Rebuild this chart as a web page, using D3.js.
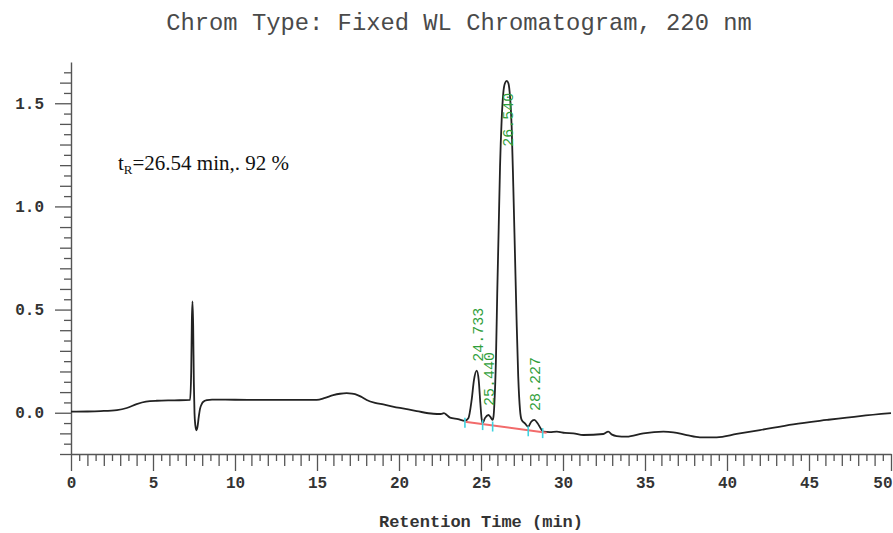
<!DOCTYPE html>
<html>
<head>
<meta charset="utf-8">
<script src="https://cdn.jsdelivr.net/npm/d3@7"></script>
<style>
  body { margin: 0; background: #fff; }
  svg { display: block; }
</style>
</head>
<body>
<div id="chart"></div>
<script>

// trace (min, AU)
var times = [0, 1.0, 1.8, 2.8, 3.4, 4.0, 4.57, 5.23, 6.3, 7.26,
    7.33, 7.37, 7.41, 7.45, 7.49, 7.53, 7.58, 7.65, 7.71, 7.79, 7.87, 7.97, 8.07, 8.3, 8.6,
    10, 12, 14, 14.98, 15.49, 15.99, 16.4, 16.81, 17.13, 17.32, 17.68, 18.03, 18.54, 19.04,
    20.06, 21.08, 22.09, 22.55, 22.74, 22.93, 23.11, 23.6, 24.02,
    24.23, 24.43, 24.57, 24.74, 24.86, 24.96, 25.04, 25.1, 25.24, 25.45, 25.58, 25.7,
    25.76, 25.82, 25.91, 25.99, 26.08, 26.16, 26.26, 26.36, 26.46, 26.57, 26.67, 26.77,
    26.87, 26.97, 27.07, 27.17, 27.27, 27.38, 27.48, 27.68, 27.88,
    28.05, 28.25, 28.45, 28.66, 28.8, 29.2, 29.62, 30.12, 30.63, 31.24, 32.46, 32.76,
    32.99, 33.27, 33.88, 34.9, 36.12, 36.73, 37.54, 38.35, 39.37, 40.59, 42.01, 44.04,
    46.08, 48.11, 50];
var absorb = [0.005, 0.006, 0.008, 0.013, 0.023, 0.042, 0.054, 0.058, 0.060, 0.062,
    0.20, 0.45, 0.54, 0.42, 0.15, 0.0, -0.06, -0.085, -0.07, -0.02, 0.02, 0.042, 0.053, 0.061, 0.064,
    0.063, 0.062, 0.062, 0.062, 0.072, 0.085, 0.092, 0.095, 0.093, 0.090, 0.078, 0.062, 0.048, 0.040,
    0.023, 0.008, -0.005, -0.006, -0.002, -0.012, -0.024, -0.031, -0.039,
    -0.027, 0.062, 0.158, 0.204, 0.158, 0.046, -0.030, -0.050, -0.026, -0.011, -0.021, -0.035,
    -0.02, 0.05, 0.255, 0.579, 0.90, 1.19, 1.42, 1.55, 1.597, 1.609, 1.597, 1.532,
    1.386, 1.095, 0.773, 0.449, 0.175, 0.013, -0.035, -0.052, -0.068,
    -0.045, -0.035, -0.051, -0.079, -0.092, -0.094, -0.092, -0.098, -0.100, -0.108, -0.103, -0.092,
    -0.106, -0.113, -0.116, -0.100, -0.092, -0.095, -0.108, -0.119, -0.119, -0.103, -0.084, -0.056,
    -0.035, -0.016, -0.002];

var peakTimes = [24.733, 25.440, 26.540, 28.227];
var peakApex = [0.204, -0.011, 1.609, -0.035];
var peakNames = ["24.733", "25.440", "26.540", "28.227"];

var baselineT = [24.02, 29.0];
var baselineV = [-0.044, -0.097];
var markT = [24.02, 25.1, 25.71, 27.88, 28.76];
var markV = [-0.044, -0.055, -0.062, -0.085, -0.094];

var xMajor = [0, 5, 10, 15, 20, 25, 30, 35, 40, 45, 50];
var yMajor = [0.0, 0.5, 1.0, 1.5];

var titleText = "Chrom Type: Fixed WL Chromatogram, 220 nm";
var xTitle = "Retention Time (min)";

var W = 893, H = 533;
var axisColor = "#555";
var monoFont = "'Liberation Mono', 'Courier New', monospace";

var x = d3.scaleLinear().domain([0, 50]).range([71, 891]);
var y = d3.scaleLinear().domain([-0.2, 1.7]).range([454, 62]);

var svg = d3.select("#chart").append("svg")
    .attr("width", W)
    .attr("height", H)
    .style("background", "#fff");

/******** axes ********/
function styleAxis(g) {
    g.selectAll("line").attr("stroke", axisColor).attr("stroke-width", 1.3);
    g.selectAll("path").attr("stroke", axisColor).attr("stroke-width", 1.4);
    g.selectAll("text")
        .attr("fill", "#333")
        .style("font-family", monoFont)
        .style("font-weight", "bold")
        .style("font-size", "16px");
}

var yTenths = d3.range(-2, 17).map(function (i) { return i / 10; })
    .filter(function (v) { return Math.abs(v * 2 - Math.round(v * 2)) > 1e-6; });
var yHalfTenths = d3.range(-3, 34, 2).map(function (i) { return i / 20; });

svg.append("g").attr("transform", "translate(" + x(0) + ",0)")
    .call(d3.axisLeft(y).tickValues(yTenths).tickSize(11).tickSizeOuter(0).tickFormat(""))
    .call(function (g) { g.select(".domain").remove(); })
    .call(styleAxis);
svg.append("g").attr("transform", "translate(" + x(0) + ",0)")
    .call(d3.axisLeft(y).tickValues(yHalfTenths).tickSize(7).tickSizeOuter(0).tickFormat(""))
    .call(function (g) { g.select(".domain").remove(); })
    .call(styleAxis);
svg.append("g").attr("transform", "translate(" + x(0) + ",0)")
    .call(d3.axisLeft(y).tickValues(yMajor).tickSize(16).tickPadding(11).tickSizeOuter(0)
        .tickFormat(d3.format(".1f")))
    .call(styleAxis);

var xInts = d3.range(0, 51).filter(function (v) { return v % 5 !== 0; });
var xHalves = d3.range(0, 50).map(function (v) { return v + 0.5; });

svg.append("g").attr("transform", "translate(0," + y(-0.2) + ")")
    .call(d3.axisBottom(x).tickValues(xInts).tickSize(12).tickSizeOuter(0).tickFormat(""))
    .call(function (g) { g.select(".domain").remove(); })
    .call(styleAxis);
svg.append("g").attr("transform", "translate(0," + y(-0.2) + ")")
    .call(d3.axisBottom(x).tickValues(xHalves).tickSize(7).tickSizeOuter(0).tickFormat(""))
    .call(function (g) { g.select(".domain").remove(); })
    .call(styleAxis);
var xAxisG = svg.append("g").attr("transform", "translate(0," + y(-0.2) + ")")
    .call(d3.axisBottom(x).tickValues(xMajor).tickSize(17).tickPadding(6).tickSizeOuter(0)
        .tickFormat(d3.format("d")))
    .call(styleAxis);
// last label sits against the right edge
xAxisG.selectAll(".tick text")
    .filter(function (d) { return d === 50; })
    .attr("text-anchor", "end")
    .attr("dx", 1);

/******** titles ********/
svg.append("text")
    .attr("x", 459).attr("y", 30)
    .attr("text-anchor", "middle")
    .style("font-family", monoFont)
    .style("font-size", "23.8px")
    .attr("fill", "#4a4a4a")
    .text(titleText);

svg.append("text")
    .attr("x", (x(0) + x(50)) / 2).attr("y", 527)
    .attr("text-anchor", "middle")
    .style("font-family", monoFont)
    .style("font-size", "17px")
    .style("font-weight", "bold")
    .attr("fill", "#333")
    .text(xTitle);

/******** trace ********/
var trace = times.map(function (t, i) { return {t: t, v: absorb[i]}; });

var line = d3.line()
    .x(function (d) { return x(d.t); })
    .y(function (d) { return y(d.v); })
    .curve(d3.curveMonotoneX);

svg.append("path")
    .datum(trace)
    .attr("d", line)
    .attr("fill", "none")
    .attr("stroke", "#222")
    .attr("stroke-width", 1.8)
    .attr("stroke-linejoin", "round");

// integration baseline + peak marks
svg.append("line")
    .attr("x1", x(baselineT[0])).attr("y1", y(baselineV[0]))
    .attr("x2", x(baselineT[1])).attr("y2", y(baselineV[1]))
    .attr("stroke", "#f26b6b")
    .attr("stroke-width", 2);

svg.selectAll(".mark")
    .data(markT)
    .enter().append("line")
    .attr("class", "mark")
    .attr("x1", function (d) { return x(d); })
    .attr("x2", function (d) { return x(d); })
    .attr("y1", function (d, i) { return y(markV[i]) - 4; })
    .attr("y2", function (d, i) { return y(markV[i]) + 6; })
    .attr("stroke", "#3fd3e0")
    .attr("stroke-width", 1.6);

// peak labels
var labelLen = 54;
svg.selectAll(".peak")
    .data(peakTimes)
    .enter().append("text")
    .attr("class", "peak")
    .attr("transform", function (d, i) {
        var py = y(peakApex[i]) - 9;
        var anchorY = (py - labelLen < y(1.7)) ? y(peakApex[i]) + 12 + labelLen : py;
        return "translate(" + (x(d) + 1) + "," + anchorY + ") rotate(-90)";
    })
    .attr("dy", "0.35em")
    .style("font-family", monoFont)
    .style("font-size", "15px")
    .attr("fill", "#2f9e3a")
    .text(function (d, i) { return peakNames[i]; });

/******** annotation ********/
var note = svg.append("text")
    .attr("x", 118).attr("y", 170)
    .style("font-family", "'Liberation Serif', 'Times New Roman', serif")
    .style("font-size", "21px")
    .attr("fill", "#111");
note.append("tspan").text("t");
note.append("tspan").attr("dy", 4).style("font-size", "13px").text("R");
note.append("tspan").attr("dy", -4).text("=26.54 min,. 92 %");

</script>
</body>
</html>
